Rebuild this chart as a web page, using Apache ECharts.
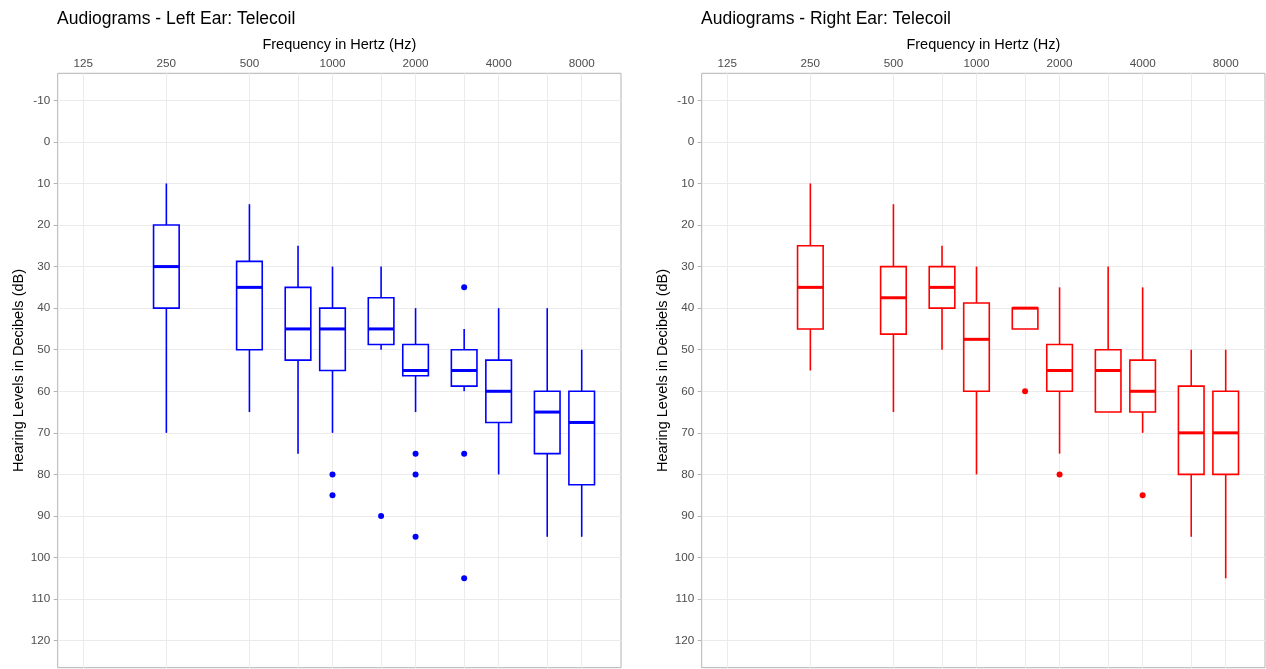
<!DOCTYPE html>
<html>
<head>
<meta charset="utf-8">
<script src="https://cdn.jsdelivr.net/npm/echarts@6/dist/echarts.min.js"></script>
<style>
  html, body { margin: 0; padding: 0; background: #fff; }
  #chart { width: 1266px; height: 669px; }
</style>
</head>
<body>
<div id="chart"></div>
<script>
// ---- data ----
const freqs = [250, 500, 750, 1000, 1500, 2000, 3000, 4000, 6000, 8000];
const freqTickLabels = [125, 250, 500, 1000, 2000, 4000, 8000];
const freqGridValues = [125, 250, 500, 750, 1000, 1500, 2000, 3000, 4000, 6000, 8000];
const dbTicks = [-10, 0, 10, 20, 30, 40, 50, 60, 70, 80, 90, 100, 110, 120];

// Left ear (whisker end nearest 0 dB, Q1, median, Q3, whisker end at high dB)
const leftLow    = [10, 15, 25, 30, 30, 40, 45, 40, 40, 50];
const leftQ1     = [20, 28.75, 35, 40, 37.5, 48.75, 50, 52.5, 60, 60];
const leftMedian = [30, 35, 45, 45, 45, 55, 55, 60, 65, 67.5];
const leftQ3     = [40, 50, 52.5, 55, 48.75, 56.25, 58.75, 67.5, 75, 82.5];
const leftHigh   = [70, 65, 75, 70, 50, 65, 60, 80, 95, 95];
const leftOutlierFreqs  = [1000, 1000, 1500, 2000, 2000, 2000, 3000, 3000, 3000];
const leftOutlierValues = [80, 85, 90, 75, 80, 95, 35, 75, 105];

// Right ear
const rightLow    = [10, 15, 25, 30, 40, 35, 30, 35, 50, 50];
const rightQ1     = [25, 30, 30, 38.75, 40, 48.75, 50, 52.5, 58.75, 60];
const rightMedian = [35, 37.5, 35, 47.5, 40, 55, 55, 60, 70, 70];
const rightQ3     = [45, 46.25, 40, 60, 45, 60, 65, 65, 80, 80];
const rightHigh   = [55, 65, 50, 80, 45, 75, 65, 70, 95, 105];
const rightOutlierFreqs  = [1500, 2000, 4000];
const rightOutlierValues = [60, 80, 85];

// ---- chart ----
const FONT = '"Liberation Sans", Arial, Helvetica, sans-serif';
const xMin = 125 * Math.pow(2, -0.308);
const xMax = 125 * Math.pow(2, 6.473);

function boxData(low, q1, med, q3, high) {
  return freqs.map((f, i) => [f, low[i], q1[i], med[i], q3[i], high[i]]);
}
function pairs(xs, ys) { return xs.map((x, i) => [x, ys[i]]); }

function boxRenderer(color) {
  return function (params, api) {
    const x = api.value(0);
    const pLo = api.coord([x, api.value(1)]);
    const pQ1 = api.coord([x, api.value(2)]);
    const pMed = api.coord([x, api.value(3)]);
    const pQ3 = api.coord([x, api.value(4)]);
    const pHi = api.coord([x, api.value(5)]);
    const cx = pMed[0];
    const hw = 12.8;
    const lw = 1.6;
    return {
      type: 'group',
      children: [
        { type: 'line', shape: { x1: cx, y1: pLo[1], x2: cx, y2: pQ1[1] }, style: { stroke: color, lineWidth: lw } },
        { type: 'line', shape: { x1: cx, y1: pQ3[1], x2: cx, y2: pHi[1] }, style: { stroke: color, lineWidth: lw } },
        { type: 'rect', shape: { x: cx - hw, y: pQ1[1], width: 2 * hw, height: pQ3[1] - pQ1[1] }, style: { fill: '#ffffff', stroke: color, lineWidth: lw } },
        { type: 'line', shape: { x1: cx - hw, y1: pMed[1], x2: cx + hw, y2: pMed[1] }, style: { stroke: color, lineWidth: 3 } }
      ]
    };
  };
}

function makeX(gridIndex) {
  return {
    type: 'log', logBase: 2, gridIndex: gridIndex, position: 'top',
    min: xMin, max: xMax,
    name: 'Frequency in Hertz (Hz)', nameLocation: 'middle', nameGap: 16,
    nameTextStyle: { fontFamily: FONT, fontSize: 14.5, color: '#000' },
    axisLine: { show: false },
    axisTick: { show: false, customValues: freqGridValues },
    axisLabel: { customValues: freqTickLabels, margin: 4, fontFamily: FONT, fontSize: 11.7, color: '#4D4D4D',
      formatter: function (v) { return String(Math.round(v)); } },
    splitLine: { show: true, lineStyle: { color: '#EBEBEB', width: 1 } },
    minorSplitLine: { show: false }
  };
}
function makeY(gridIndex) {
  return {
    type: 'value', inverse: true, gridIndex: gridIndex,
    min: -16.5, max: 126.5,
    name: 'Hearing Levels in Decibels (dB)', nameLocation: 'middle', nameGap: 31, nameRotate: 90,
    nameTextStyle: { fontFamily: FONT, fontSize: 14.5, color: '#000' },
    axisLine: { show: false },
    axisTick: { show: true, customValues: dbTicks, length: 4, lineStyle: { color: '#B3B3B3', width: 1 } },
    axisLabel: { customValues: dbTicks, margin: 7.5, fontFamily: FONT, fontSize: 11.7, color: '#4D4D4D',
      formatter: function (v) { return String(Math.round(v)); } },
    splitLine: { show: true, lineStyle: { color: '#EBEBEB', width: 1 } }
  };
}

const chart = echarts.init(document.getElementById('chart'), null, { renderer: 'canvas' });
chart.setOption({
  backgroundColor: '#ffffff',
  animation: false,
  title: [
    { text: 'Audiograms - Left Ear: Telecoil', left: 57, top: 10, padding: 0,
      textStyle: { fontFamily: FONT, fontSize: 17.5, fontWeight: 'normal', color: '#000' } },
    { text: 'Audiograms - Right Ear: Telecoil', left: 701, top: 10, padding: 0,
      textStyle: { fontFamily: FONT, fontSize: 17.5, fontWeight: 'normal', color: '#000' } }
  ],
  grid: [
    { left: 57.7, top: 73.3, width: 563.3, height: 594.4, show: true, borderColor: '#B3B3B3', borderWidth: 1, backgroundColor: '#fff' },
    { left: 701.7, top: 73.3, width: 563.3, height: 594.4, show: true, borderColor: '#B3B3B3', borderWidth: 1, backgroundColor: '#fff' }
  ],
  xAxis: [makeX(0), makeX(1)],
  yAxis: [makeY(0), makeY(1)],
  series: [
    { type: 'custom', name: 'Left', xAxisIndex: 0, yAxisIndex: 0,
      renderItem: boxRenderer('#0000FF'),
      encode: { x: 0, y: [1, 2, 3, 4, 5] },
      data: boxData(leftLow, leftQ1, leftMedian, leftQ3, leftHigh), z: 3 },
    { type: 'scatter', name: 'Left outliers', xAxisIndex: 0, yAxisIndex: 0,
      symbolSize: 6, itemStyle: { color: '#0000FF', opacity: 1 },
      data: pairs(leftOutlierFreqs, leftOutlierValues), z: 4 },
    { type: 'custom', name: 'Right', xAxisIndex: 1, yAxisIndex: 1,
      renderItem: boxRenderer('#FF0000'),
      encode: { x: 0, y: [1, 2, 3, 4, 5] },
      data: boxData(rightLow, rightQ1, rightMedian, rightQ3, rightHigh), z: 3 },
    { type: 'scatter', name: 'Right outliers', xAxisIndex: 1, yAxisIndex: 1,
      symbolSize: 6, itemStyle: { color: '#FF0000', opacity: 1 },
      data: pairs(rightOutlierFreqs, rightOutlierValues), z: 4 }
  ]
});
</script>
</body>
</html>
